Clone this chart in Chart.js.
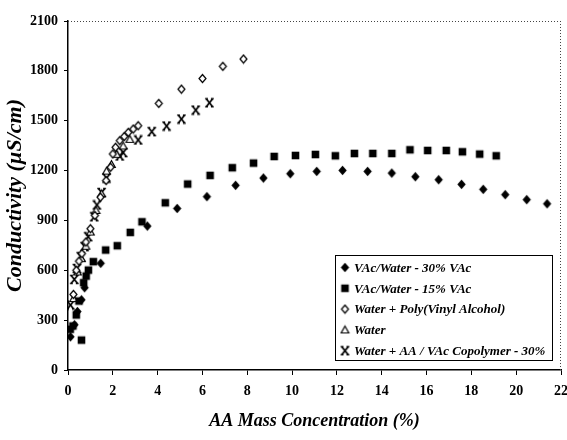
<!DOCTYPE html>
<html>
<head>
<meta charset="utf-8">
<script src="https://cdn.jsdelivr.net/npm/chart.js@4"></script>
<style>
  html, body { margin: 0; padding: 0; background: #fff; overflow: hidden; }
  #wrap { width: 567px; height: 440px; }
</style>
</head>
<body>
<div id="wrap"><canvas id="chartCond" width="567" height="440"></canvas></div>
<script>
const vac30X = [0.11, 0.29, 0.42, 0.6, 0.74, 1.46, 3.54, 4.87, 6.2, 7.48, 8.72, 9.92, 11.1, 12.25, 13.37, 14.45, 15.5, 16.54, 17.56, 18.53, 19.51, 20.47, 21.38];
const vac30Y = [200, 272, 352, 422, 495, 642, 866, 972, 1043, 1111, 1155, 1181, 1195, 1201, 1195, 1185, 1163, 1145, 1117, 1087, 1055, 1025, 1000];

const vac15X = [0.1, 0.22, 0.37, 0.49, 0.6, 0.7, 0.81, 0.91, 1.13, 1.68, 2.2, 2.78, 3.3, 4.34, 5.34, 6.34, 7.33, 8.28, 9.2, 10.15, 11.04, 11.93, 12.78, 13.6, 14.45, 15.26, 16.05, 16.88, 17.6, 18.37, 19.11];
const vac15Y = [245, 265, 331, 415, 180, 525, 565, 601, 652, 722, 748, 828, 892, 1006, 1119, 1171, 1217, 1245, 1285, 1291, 1297, 1289, 1303, 1303, 1303, 1325, 1321, 1321, 1313, 1299, 1289];

const pvaX = [0.24, 0.37, 0.49, 0.62, 0.8, 1.0, 1.2, 1.45, 1.7, 1.9, 2.0, 2.12, 2.31, 2.51, 2.69, 2.91, 3.13, 4.05, 5.06, 6.0, 6.91, 7.83];
const pvaY = [455, 600, 655, 700, 770, 850, 930, 1040, 1140, 1220, 1300, 1340, 1380, 1405, 1430, 1450, 1470, 1604, 1690, 1754, 1827, 1871];

const waterX = [0.25, 0.42, 0.6, 0.8, 1.0, 1.25, 1.5, 1.72, 1.94, 2.17, 2.46, 2.76];
const waterY = [430, 590, 670, 745, 830, 960, 1060, 1197, 1237, 1298, 1348, 1388];

const copoX = [0.11, 0.28, 0.4, 0.57, 0.74, 0.9, 1.17, 1.29, 1.5, 1.72, 2.31, 2.46, 3.13, 3.74, 4.4, 5.06, 5.7, 6.31];
const copoY = [391, 545, 611, 682, 742, 802, 922, 993, 1068, 1155, 1288, 1308, 1384, 1434, 1468, 1510, 1564, 1608];

const seriesNames = [
    'VAc/Water - 30% VAc',
    'VAc/Water - 15% VAc',
    'Water + Poly(Vinyl Alcohol)',
    'Water',
    'Water + AA / VAc Copolymer - 30%',
];

const xTitle = 'AA Mass Concentration (%)';
const yTitle = 'Conductivity (\u00b5S/cm)';

const serif = '"Liberation Serif", "Times New Roman", serif';

// small canvases used as point styles
function makeMarker(kind) {
    const size = 11;
    const c = document.createElement('canvas');
    c.width = size;
    c.height = size;
    const ctx = c.getContext('2d');
    const m = size / 2;
    ctx.fillStyle = '#000';
    ctx.strokeStyle = '#000';
    ctx.lineWidth = 1.2;
    if (kind === 'diamond') {
        ctx.beginPath();
        ctx.moveTo(m, m - 4.8); ctx.lineTo(m + 4.2, m); ctx.lineTo(m, m + 4.8); ctx.lineTo(m - 4.2, m);
        ctx.closePath();
        ctx.fill();
    } else if (kind === 'square') {
        ctx.fillRect(m - 3.8, m - 3.8, 7.6, 7.6);
    } else if (kind === 'diamondOpen') {
        ctx.fillStyle = '#fff';
        ctx.beginPath();
        ctx.moveTo(m, m - 4); ctx.lineTo(m + 3.5, m); ctx.lineTo(m, m + 4); ctx.lineTo(m - 3.5, m);
        ctx.closePath();
        ctx.fill();
        ctx.stroke();
    } else if (kind === 'triangleOpen') {
        ctx.fillStyle = '#fff';
        ctx.beginPath();
        ctx.moveTo(m, m - 3.8); ctx.lineTo(m + 3.8, m + 3); ctx.lineTo(m - 3.8, m + 3);
        ctx.closePath();
        ctx.fill();
        ctx.stroke();
    } else if (kind === 'star') {
        // x with short serifs top and bottom
        ctx.lineWidth = 1.8;
        ctx.beginPath();
        ctx.moveTo(m - 3, m - 3.8); ctx.lineTo(m + 3, m + 3.8);
        ctx.moveTo(m + 3, m - 3.8); ctx.lineTo(m - 3, m + 3.8);
        ctx.stroke();
        ctx.lineWidth = 1.3;
        ctx.beginPath();
        ctx.moveTo(m - 4.3, m - 4); ctx.lineTo(m - 1.5, m - 4);
        ctx.moveTo(m + 1.5, m - 4); ctx.lineTo(m + 4.3, m - 4);
        ctx.moveTo(m - 4.3, m + 4); ctx.lineTo(m - 1.5, m + 4);
        ctx.moveTo(m + 1.5, m + 4); ctx.lineTo(m + 4.3, m + 4);
        ctx.stroke();
    }
    return c;
}

const markers = [
    makeMarker('diamond'),
    makeMarker('square'),
    makeMarker('diamondOpen'),
    makeMarker('triangleOpen'),
    makeMarker('star'),
];

function toPoints(xs, ys) {
    return xs.map((x, i) => ({ x: x, y: ys[i] }));
}

const seriesData = [
    toPoints(vac30X, vac30Y),
    toPoints(vac15X, vac15Y),
    toPoints(pvaX, pvaY),
    toPoints(waterX, waterY),
    toPoints(copoX, copoY),
];

// dotted frame on top and right of the plot
const dottedFrame = {
    id: 'dottedFrame',
    afterDraw(chart) {
        const a = chart.chartArea;
        const ctx = chart.ctx;
        ctx.save();
        ctx.strokeStyle = '#444';
        ctx.lineWidth = 1;
        ctx.setLineDash([1, 2]);
        ctx.beginPath();
        ctx.moveTo(a.left, a.top + 0.5);
        ctx.lineTo(a.right, a.top + 0.5);
        ctx.moveTo(a.right - 0.5, a.top);
        ctx.lineTo(a.right - 0.5, a.bottom);
        ctx.stroke();
        ctx.restore();
    },
};

// boxed legend in the lower right of the plot
const boxLegend = {
    id: 'boxLegend',
    afterDraw(chart) {
        const a = chart.chartArea;
        const ctx = chart.ctx;
        const w = 217, h = 105;
        const left = a.right - 9 - w;
        const top = a.bottom - 10 - h;
        ctx.save();
        ctx.fillStyle = '#fff';
        ctx.fillRect(left, top, w, h);
        ctx.strokeStyle = '#000';
        ctx.lineWidth = 1;
        ctx.strokeRect(left + 0.5, top + 0.5, w, h);
        ctx.font = 'italic bold 13px ' + serif;
        ctx.fillStyle = '#000';
        ctx.textBaseline = 'middle';
        chart.data.datasets.forEach((ds, i) => {
            const cy = top + 12.5 + i * 20.8;
            const mk = markers[i];
            ctx.drawImage(mk, left + 10 - mk.width / 2, cy - mk.height / 2);
            ctx.fillText(ds.label, left + 19, cy + 1);
        });
        ctx.restore();
    },
};

const plainNumber = (v) => String(v);

new Chart(document.getElementById('chartCond'), {
    type: 'scatter',
    data: {
        datasets: seriesData.map((pts, i) => ({
            label: seriesNames[i],
            data: pts,
            pointStyle: markers[i],
            pointRadius: 5,
            showLine: false,
        })),
    },
    options: {
        responsive: false,
        animation: false,
        layout: { padding: { top: 21, right: 6, left: 0, bottom: 0 } },
        plugins: {
            legend: { display: false },
            tooltip: { enabled: false },
        },
        scales: {
            x: {
                type: 'linear',
                min: 0,
                max: 22,
                afterFit: (s) => { s.height = 70; s.paddingRight = 0; s.paddingLeft = 0; },
                ticks: {
                    stepSize: 2,
                    color: '#000',
                    padding: 8,
                    maxRotation: 0,
                    callback: plainNumber,
                    font: { family: serif, size: 14, weight: 'bold' },
                },
                grid: { drawOnChartArea: false, drawTicks: true, tickLength: 5, color: '#000' },
                border: { color: '#000', width: 1.5 },
                title: {
                    display: true,
                    text: xTitle,
                    color: '#000',
                    padding: { top: 0, bottom: 8 },
                    font: { family: serif, size: 18, weight: 'bold', style: 'italic' },
                },
            },
            y: {
                min: 0,
                max: 2100,
                afterFit: (s) => { s.width = 68; },
                ticks: {
                    stepSize: 300,
                    color: '#000',
                    padding: 6,
                    callback: plainNumber,
                    font: { family: serif, size: 14, weight: 'bold' },
                },
                grid: { drawOnChartArea: false, drawTicks: true, tickLength: 4, color: '#000' },
                border: { color: '#000', width: 1.5 },
                title: {
                    display: true,
                    text: yTitle,
                    color: '#000',
                    padding: { top: 2, bottom: 0 },
                    font: { family: serif, size: 22, weight: 'bold', style: 'italic' },
                },
            },
        },
    },
    plugins: [dottedFrame, boxLegend],
});
</script>
</body>
</html>
